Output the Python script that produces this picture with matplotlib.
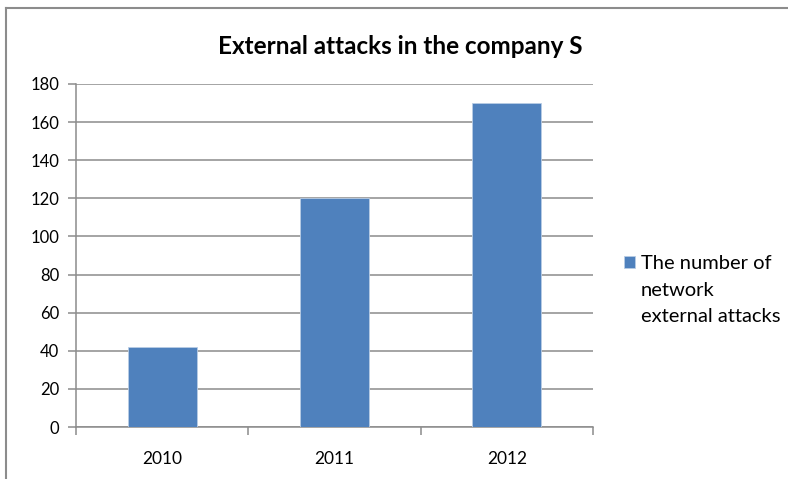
import matplotlib
matplotlib.use("Agg")
import matplotlib.pyplot as plt
from matplotlib.lines import Line2D
import numpy as np

categories = ["2010", "2011", "2012"]
values = [42, 120, 170]
series_lines = ["The number of", "network", "external attacks"]
title = "External attacks in the company S"
yticks = [0, 20, 40, 60, 80, 100, 120, 140, 160, 180]

plt.rcParams['font.family'] = ['Lato', 'DejaVu Sans']

W, H = 788, 479
fig = plt.figure(figsize=(W/100, H/100), dpi=100)
ax = fig.add_axes([76/W, 1-427/H, (593-76)/W, (427-84)/H])

x = np.arange(len(categories))
bars = ax.bar(x, values, width=0.4, color="#4F81BD", edgecolor="#B9CDE5", linewidth=0.6, zorder=3)

ax.set_xlim(-0.5, len(categories)-0.5)
ax.set_ylim(0, 180)
ax.set_yticks(yticks)
ax.set_yticklabels([str(t) for t in yticks], fontsize=12)
ax.yaxis.grid(True, color="#8C8C8C", linewidth=1.1, zorder=0)
ax.set_xticks(x)
ax.set_xticklabels(categories, fontsize=12.5)
ax.set_xticks(np.arange(len(categories)+1)-0.5, minor=True)
ax.tick_params(axis='x', which='major', length=0, pad=17)
ax.tick_params(axis='x', which='minor', length=6, color="#8C8C8C", width=1.1)
ax.tick_params(axis='y', length=6, color="#8C8C8C", width=1.1, pad=6)
for s in ["top", "right"]:
    ax.spines[s].set_visible(False)
for s in ["left", "bottom"]:
    ax.spines[s].set_color("#8C8C8C")
    ax.spines[s].set_linewidth(1.1)

fig.text(400/W, 1-46/H, title, ha="center", va="center", fontsize=17.5, fontweight="bold")

leg = fig.legend([bars], [series_lines[0]], loc="upper left", bbox_to_anchor=(624/W, 1-255/H),
                 frameon=False, fontsize=14.5, handlelength=0.55, handleheight=0.55,
                 handletextpad=0.3, borderpad=0, borderaxespad=0)
fig.text(641/W, 1-296/H, series_lines[1], fontsize=14.5, va="baseline", ha="left")
fig.text(641/W, 1-322/H, series_lines[2], fontsize=14.5, va="baseline", ha="left")

# outer chart frame
fig.add_artist(Line2D([6/W, 6/W], [0, 1-8/H], transform=fig.transFigure, color="#8C8C8C", linewidth=1.5))
fig.add_artist(Line2D([6/W, 1], [1-8/H, 1-8/H], transform=fig.transFigure, color="#8C8C8C", linewidth=1.5))

fig.savefig("out.png", dpi=100)
